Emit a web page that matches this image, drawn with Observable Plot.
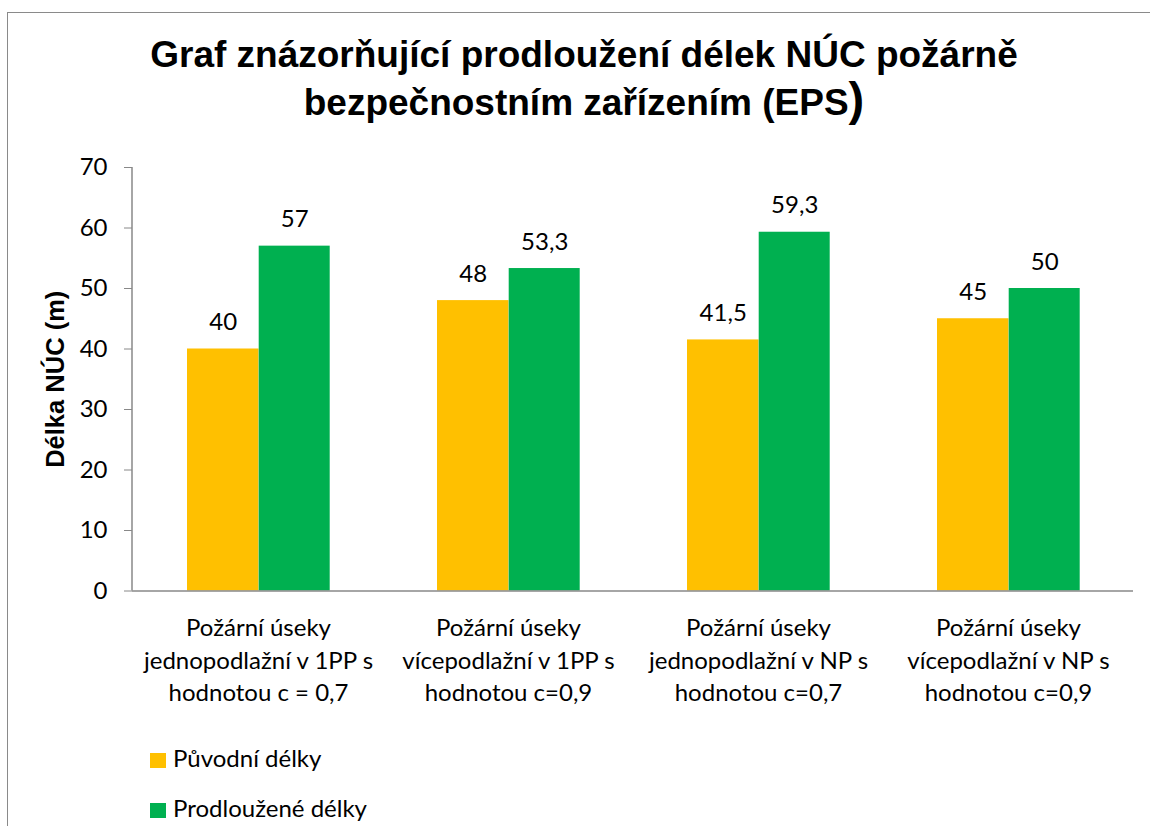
<!DOCTYPE html>
<html><head><meta charset="utf-8">
<script src="https://cdn.jsdelivr.net/npm/d3@7"></script>
<script src="https://cdn.jsdelivr.net/npm/@observablehq/plot@0.6"></script>
<style>
body{margin:0;background:#fff;width:1150px;height:826px;overflow:hidden;position:relative;font-family:Lato,sans-serif}
#frame{position:absolute;left:7px;top:12px;width:1170px;height:840px;border:1.5px solid #8a8a8a;box-sizing:border-box}
#title{position:absolute;left:7px;width:1154px;top:30.9px;text-align:center;font-family:"Liberation Sans",Arial,sans-serif;font-weight:bold;font-size:37px;line-height:48px;color:#000;margin:0}
#title .big{font-size:47px;line-height:1px}
#chart{position:absolute;left:0;top:140px}
.sw{position:absolute;left:150px;width:15.5px;height:15.5px}
.lt{position:absolute;left:173px;font-family:Lato,sans-serif;font-size:24px;line-height:28.8px;color:#000;white-space:nowrap}
</style></head>
<body>
<div id="frame"></div>
<h1 id="title">Graf znázorňující prodloužení délek NÚC požárně<br>bezpečnostním zařízením (EPS<span class="big">)</span></h1>
<div id="chart"></div>
<div id="legend"></div>
<script>
const categories = [
  "Požární úseky\njednopodlažní v 1PP s\nhodnotou c = 0,7",
  "Požární úseky\nvícepodlažní v 1PP s\nhodnotou c=0,9",
  "Požární úseky\njednopodlažní v NP s\nhodnotou c=0,7",
  "Požární úseky\nvícepodlažní v NP s\nhodnotou c=0,9"
];
const seriesNames = ["Původní délky", "Prodloužené délky"];
const original = [40, 48, 41.5, 45];
const extended = [57, 53.3, 59.3, 50];
const colors = ["#FFC000", "#00B050"];
const yTicks = [0, 10, 20, 30, 40, 50, 60, 70];
const yLabel = "Délka NÚC (m)";

const origRows = categories.map((c, i) => ({category: c, value: original[i]}));
const extRows = categories.map((c, i) => ({category: c, value: extended[i]}));
const fmt = v => String(v).replace(".", ",");

const chart = Plot.plot({
  width: 1150, height: 580,
  marginLeft: 132, marginRight: 17, marginTop: 27, marginBottom: 129.5,
  style: {fontFamily: "Lato, sans-serif", fontSize: "24px", color: "#000", background: "transparent"},
  x: {domain: categories, padding: 0, axis: null},
  y: {domain: [0, 70], axis: null},
  marks: [
    Plot.barY(origRows, {x: "category", y: "value", fill: colors[0], insetLeft: 54, insetRight: 124.5}),
    Plot.barY(extRows, {x: "category", y: "value", fill: colors[1], insetLeft: 125.7, insetRight: 53.3}),
    Plot.text(origRows, {x: "category", y: "value", text: d => fmt(d.value), dx: -35.3, dy: -19, lineAnchor: "bottom", fontSize: 24, fill: "#000"}),
    Plot.text(extRows, {x: "category", y: "value", text: d => fmt(d.value), dx: 36.2, dy: -19, lineAnchor: "bottom", fontSize: 24, fill: "#000"}),
    Plot.ruleY([0], {stroke: "#888", strokeWidth: 1.5}),
    Plot.axisY({ticks: yTicks, tickSize: 8, tickPadding: 17, stroke: "#888", fill: "#000", label: null, fontSize: 24, tickFormat: d => d}),
    Plot.axisY({ticks: [], label: yLabel, labelArrow: "none", labelAnchor: "center", labelOffset: 87, fontFamily: "Liberation Sans, Arial, sans-serif", fontWeight: "bold", fontSize: 25.5, fill: "#000"}),
    Plot.axisX({tickSize: 0, tickPadding: 22, lineHeight: 1.354, fontSize: 24, fill: "#000", label: null})
  ]
});
// y axis line from the scales
const ys = chart.scale("y"), xs = chart.scale("x");
d3.select(chart).append("line")
  .attr("x1", xs.range[0]).attr("x2", xs.range[0])
  .attr("y1", ys.range[0]).attr("y2", ys.range[1])
  .attr("stroke", "#888").attr("stroke-width", 1.5);
document.getElementById("chart").appendChild(chart);

const legend = document.getElementById("legend");
seriesNames.forEach((name, i) => {
  const sw = document.createElement("div");
  sw.className = "sw"; sw.style.background = colors[i]; sw.style.top = (752.7 + 50 * i) + "px";
  const t = document.createElement("div");
  t.className = "lt"; t.textContent = name; t.style.top = (744.3 + 50 * i) + "px";
  legend.appendChild(sw); legend.appendChild(t);
});
</script>
</body></html>
